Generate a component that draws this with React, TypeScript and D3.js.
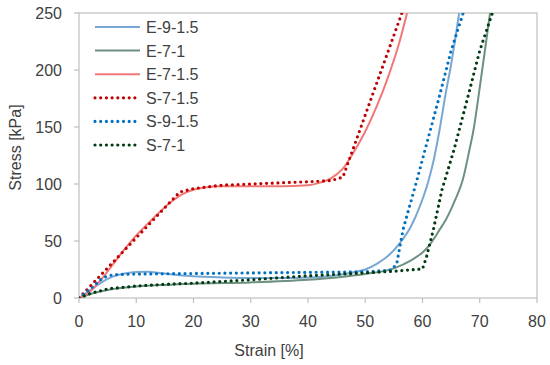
import React from "react";
import * as d3 from "d3";

// Series data: [strain %, stress kPa]
const e91_5: [number, number][] = [
  [0, 0], [2, 7], [4, 14], [6, 19], [8, 21.5], [10, 22.8], [12, 23], [14, 22], [16, 20.8],
  [20, 19], [25, 18], [30, 17.5], [35, 17.5], [40, 18], [45, 20], [48, 22.5], [50, 25],
  [52, 30], [54, 37], [56, 48], [58, 63], [59.5, 80], [61, 102], [62, 122], [63, 148],
  [64, 178], [65, 205], [65.8, 230], [66.4, 250],
];
const e71: [number, number][] = [
  [0, 0], [2, 3.5], [5, 7], [10, 10], [15, 11.5], [20, 12.5], [30, 13.7], [40, 16],
  [45, 18], [50, 21], [55, 26], [58, 33], [60, 40], [61, 45], [62, 52], [63, 60],
  [64, 68], [65, 78], [65.7, 86], [67, 103], [68.2, 130], [69, 150], [69.7, 174],
  [70.9, 217], [71.8, 250],
];
const e71_5: [number, number][] = [
  [0, 0], [2, 6], [4, 17], [6, 30], [8, 43], [10, 55], [12, 65], [14, 75], [16, 84],
  [18, 91], [20, 95], [22, 97], [25, 98], [30, 98], [35, 98], [40, 99], [42, 101],
  [44, 105], [46, 113], [48, 128], [50, 146], [52, 168], [54, 194], [56, 225], [57.3, 250],
];
const s71_5: [number, number][] = [
  [0, 0], [17.6, 93], [20, 96], [25, 99], [30, 100], [40, 102], [44, 103], [46.1, 106],
  [56.4, 250],
];
const s91_5: [number, number][] = [
  [0, 0], [2, 8], [4.2, 18], [6, 20.5], [10, 21], [20, 21.5], [30, 22], [40, 22.5],
  [50, 23], [54.5, 24.5], [55.5, 30], [56.6, 60], [59, 103], [62.8, 174], [65, 217],
  [67.1, 250],
];
const s71: [number, number][] = [
  [0, 0], [2, 4], [5, 8], [10, 10.5], [15, 12], [20, 13], [30, 16], [40, 19.5],
  [50, 22], [55, 23.5], [60, 25.5], [60.7, 36], [61.9, 60], [63.4, 95], [65.5, 130],
  [67.8, 174], [70, 217], [72.2, 250],
];

const seriesNames = ["E-9-1.5", "E-7-1", "E-7-1.5", "S-7-1.5", "S-9-1.5", "S-7-1"];
const seriesData = [e91_5, e71, e71_5, s71_5, s91_5, s71];
const seriesColors = ["#79a7d3", "#6e9080", "#f27878", "#c00000", "#0070c0", "#003a12"];
const seriesDotted = [false, false, false, true, true, true];

const xTicks = [0, 10, 20, 30, 40, 50, 60, 70, 80];
const yTicks = [0, 50, 100, 150, 200, 250];

const W = 550;
const H = 365;
const margin = { left: 79, right: 13, top: 13, bottom: 67 };
const font = "'Liberation Sans', Arial, sans-serif";
const textColor = "#404040";
const axisColor = "#bfbfbf";
const fs = 16;

export default function App() {
  const x = d3.scaleLinear().domain([0, 80]).range([margin.left, W - margin.right]);
  const y = d3.scaleLinear().domain([0, 250]).range([H - margin.bottom, margin.top]);

  const smooth = d3
    .line<[number, number]>()
    .x((d) => x(d[0]))
    .y((d) => y(d[1]))
    .curve(d3.curveMonotoneX);
  const straight = d3
    .line<[number, number]>()
    .x((d) => x(d[0]))
    .y((d) => y(d[1]))
    .curve(d3.curveLinear);

  const [x0, x1] = x.range();
  const [y0, y1] = y.range();

  return (
    <svg
      width={W}
      height={H}
      style={{ position: "absolute", left: 0, top: 0, background: "#fff" }}
      fontFamily={font}
    >
      <defs>
        <clipPath id="plot">
          <rect x={x0} y={y1} width={x1 - x0} height={y0 - y1} />
        </clipPath>
      </defs>

      {/* plot frame */}
      <rect x={x0} y={y1} width={x1 - x0} height={y0 - y1} fill="none" stroke={axisColor} strokeWidth={1.2} />

      {/* x ticks */}
      {xTicks.map((t) => (
        <g key={"xt" + t}>
          <line x1={x(t)} x2={x(t)} y1={y0} y2={y0 + 5} stroke={axisColor} strokeWidth={1.2} />
          <text x={x(t)} y={y0 + 29} textAnchor="middle" fontSize={fs} fill={textColor}>
            {t}
          </text>
        </g>
      ))}

      {/* y ticks */}
      {yTicks.map((t) => (
        <g key={"yt" + t}>
          <line x1={x0 - 5} x2={x0} y1={y(t)} y2={y(t)} stroke={axisColor} strokeWidth={1.2} />
          <text x={62} y={y(t) + 6} textAnchor="end" fontSize={fs} fill={textColor}>
            {t}
          </text>
        </g>
      ))}

      <text x={269} y={356} textAnchor="middle" fontSize={fs} fill={textColor}>
        Strain [%]
      </text>
      <text
        transform={`translate(21, 147.5) rotate(-90)`}
        textAnchor="middle"
        fontSize={fs}
        fill={textColor}
      >
        Stress [kPa]
      </text>

      {/* series */}
      <g clipPath="url(#plot)">
        {seriesData.map((d, i) => (
          <path
            key={seriesNames[i]}
            d={(seriesDotted[i] ? straight(d) : smooth(d)) || ""}
            fill="none"
            stroke={seriesColors[i]}
            strokeWidth={seriesDotted[i] ? 3.2 : 2}
            strokeDasharray={seriesDotted[i] ? "0 5.7" : undefined}
            strokeLinecap={seriesDotted[i] ? "round" : "butt"}
            strokeLinejoin="round"
          />
        ))}
      </g>

      {/* legend */}
      {seriesNames.map((name, i) => {
        const ly = 27 + i * 23.6;
        return (
          <g key={"lg" + name}>
            <line
              x1={95}
              x2={140}
              y1={ly}
              y2={ly}
              stroke={seriesColors[i]}
              strokeWidth={seriesDotted[i] ? 3.2 : 2}
              strokeDasharray={seriesDotted[i] ? "0 5.7" : undefined}
              strokeLinecap={seriesDotted[i] ? "round" : "butt"}
            />
            <text x={146} y={ly + 6} fontSize={fs} fill={textColor}>
              {name}
            </text>
          </g>
        );
      })}
    </svg>
  );
}
